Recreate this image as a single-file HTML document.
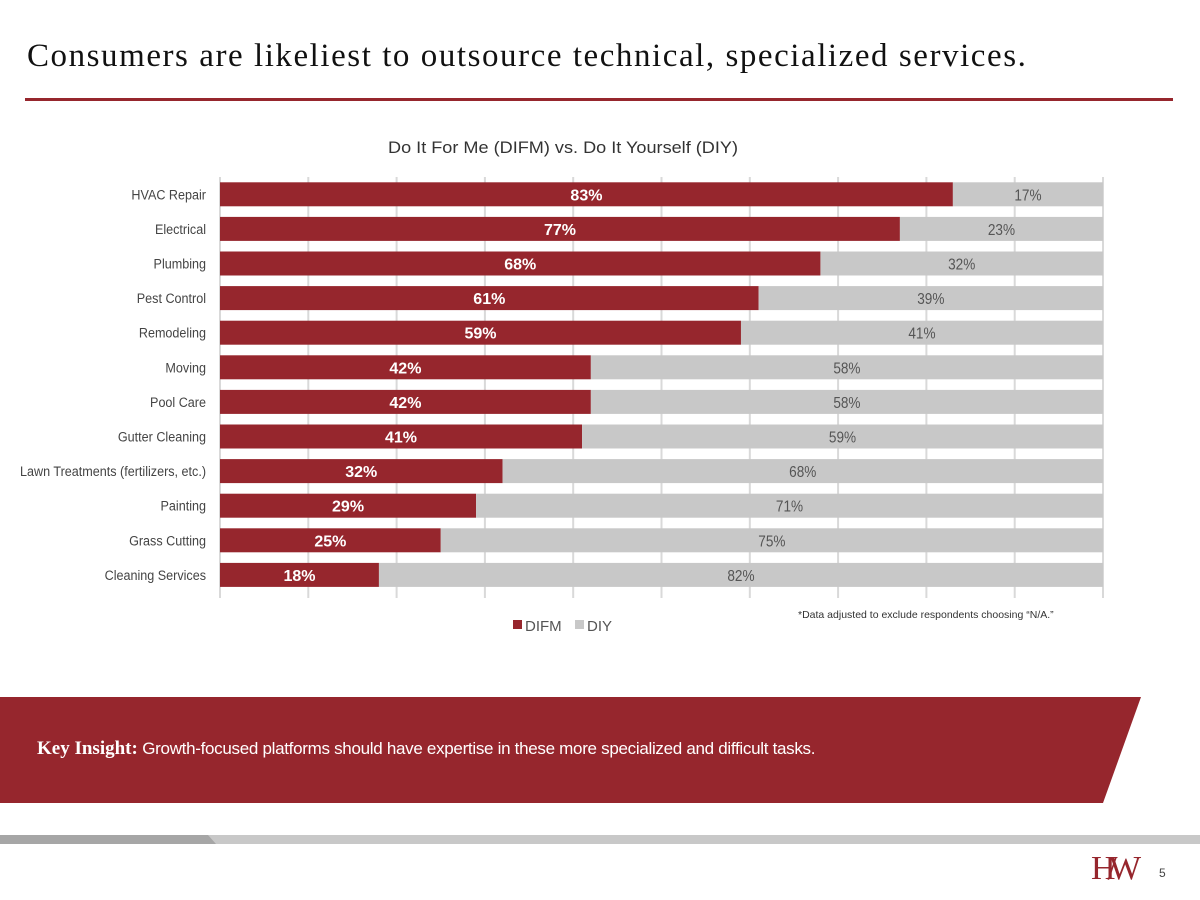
<!DOCTYPE html>
<html><head><meta charset="utf-8"><style>
body{margin:0;width:1200px;height:900px;background:#fff;position:relative;overflow:hidden;font-family:"Liberation Sans",sans-serif}
.t{position:absolute;left:27px;top:38px;font-family:"Liberation Serif",serif;font-size:33px;letter-spacing:1.55px;color:#111;margin:0;font-weight:normal}
</style></head><body>
<h1 class="t">Consumers are likeliest to outsource technical, specialized services.</h1>
<div style="position:absolute;left:25px;top:98px;width:1148px;height:3px;background:#96262d"></div>
<svg id="c" width="1200" height="900" style="position:absolute;left:0;top:0"></svg>
<script>
const categories=["HVAC Repair","Electrical","Plumbing","Pest Control","Remodeling","Moving","Pool Care","Gutter Cleaning","Lawn Treatments (fertilizers, etc.)","Painting","Grass Cutting","Cleaning Services"];
const difm=[83,77,68,61,59,42,42,41,32,29,25,18];
const diy=[17,23,32,39,41,58,58,59,68,71,75,82];
const ticks=[0,10,20,30,40,50,60,70,80,90,100];
const NS="http://www.w3.org/2000/svg",svg=document.getElementById('c');
const x0=220,x1=1103,y0=177,rowH=34.6;
const xs=v=>x0+(x1-x0)*v/100, yc=i=>y0+rowH*(i+0.5);
function mk(t,a,txt){const e=document.createElementNS(NS,t);for(const k in a)e.setAttribute(k,a[k]);if(txt!=null)e.textContent=txt;svg.appendChild(e);return e;}
let e=mk('text',{x:563,y:153,'text-anchor':'middle','font-size':17,fill:'#333',textLength:350,lengthAdjust:'spacingAndGlyphs'},'Do It For Me (DIFM) vs. Do It Yourself (DIY)');


ticks.forEach(t=>{const g=mk('line',{x1:xs(t),x2:xs(t),y1:y0,y2:598,stroke:'#d9d9d9','stroke-width':2});

});
categories.forEach((c,i)=>{
const y=yc(i);
let r=mk('rect',{x:xs(0),y:y-12,width:xs(difm[i])-xs(0),height:24,fill:'#96262d'});


let r2=mk('rect',{x:xs(difm[i]),y:y-12,width:xs(difm[i]+diy[i])-xs(difm[i]),height:24,fill:'#c8c8c8'});


let l=mk('text',{x:206,y:y+5,'text-anchor':'end','font-size':14,fill:'#444',transform:`translate(206 0) scale(0.9 1) translate(-206 0)`},c);


let v1=mk('text',{x:(xs(0)+xs(difm[i]))/2,y:y+6,'text-anchor':'middle','font-size':16,'font-weight':'bold',fill:'#fff'},difm[i]+'%');


let cx=(xs(difm[i])+xs(difm[i]+diy[i]))/2;
let v2=mk('text',{x:cx,y:y+6,'text-anchor':'middle','font-size':16,fill:'#555',transform:`translate(${cx} 0) scale(0.85 1) translate(${-cx} 0)`},diy[i]+'%');


});
let k1=mk('rect',{x:513,y:620,width:9,height:9,fill:'#96262d'});


let k2=mk('text',{x:525,y:631,'font-size':15,fill:'#555'},'DIFM');


let k3=mk('rect',{x:575,y:620,width:9,height:9,fill:'#c8c8c8'});


let k4=mk('text',{x:587,y:631,'font-size':15,fill:'#555'},'DIY');


let fn=mk('text',{x:798,y:618,'font-size':10.5,fill:'#333'},'*Data adjusted to exclude respondents choosing “N/A.”');


let b=mk('polygon',{points:'0,697 1141,697 1103,803 0,803',fill:'#96262d'});


let s1=mk('rect',{x:0,y:835,width:216,height:9,fill:'#a6a6a6'});


let s2=mk('polygon',{points:'208,835 1200,835 1200,844 216,844',fill:'#c8c8c8'});


</script>
<div style="position:absolute;left:37px;top:738px;color:#fff;font-size:17px;letter-spacing:-0.3px"><b style="font-family:'Liberation Serif',serif;font-size:19px;letter-spacing:0">Key Insight:</b> Growth-focused platforms should have expertise in these more specialized and difficult tasks.</div>
<div style="position:absolute;left:1091px;top:850px;font-family:'Liberation Serif',serif;font-size:34px;color:#96262d;letter-spacing:-8px">H/W</div>
<div style="position:absolute;left:1159px;top:866px;font-size:12px;color:#444">5</div>
</body></html>
